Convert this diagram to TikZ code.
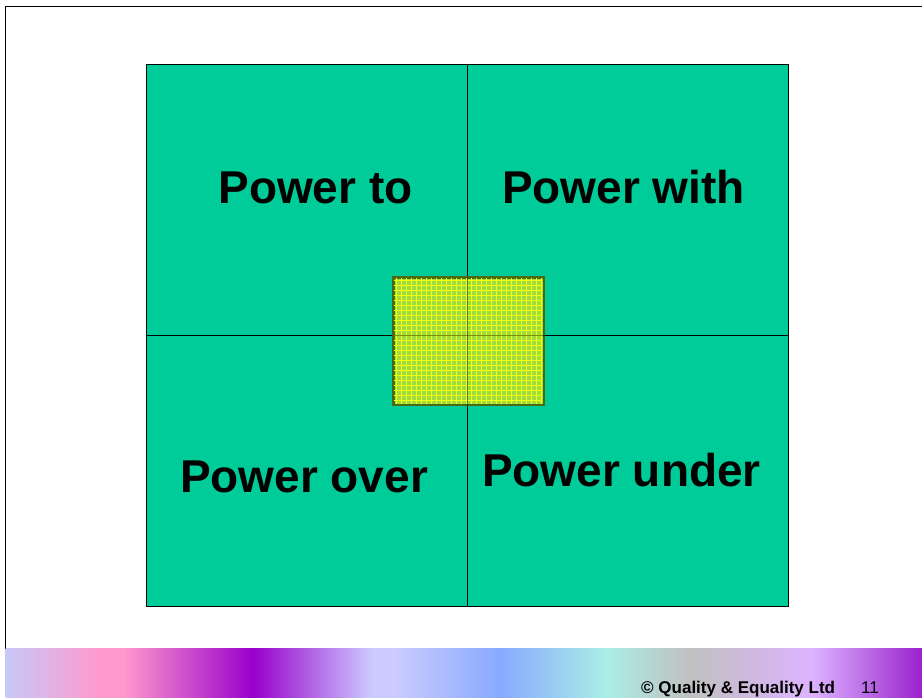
\documentclass[tikz,border=0pt]{standalone}
\usepackage{fontspec}
\setmainfont{Liberation Sans}
\definecolor{quad}{HTML}{00CC99}
\definecolor{hatchbase}{HTML}{9EDC40}
\definecolor{hatchline}{HTML}{F4FF10}
\definecolor{hatchedge}{HTML}{4E6A10}
\definecolor{gA}{HTML}{C8C8F8}
\definecolor{gB}{HTML}{FF99CC}
\definecolor{gC}{HTML}{9900CC}
\definecolor{gD}{HTML}{CCCCFF}
\definecolor{gE}{HTML}{88AAFF}
\definecolor{gF}{HTML}{AAEEE6}
\definecolor{gG}{HTML}{C0C0C0}
\definecolor{gH}{HTML}{DDB3FF}
\definecolor{gI}{HTML}{9922CC}
\pgfdeclarehorizontalshading{bandshade}{100bp}{%
  color(0bp)=(gA); color(25bp)=(gA); color(30.18bp)=(gB); color(31.38bp)=(gB);
  color(38.52bp)=(gC); color(45.01bp)=(gD); color(46.10bp)=(gD);
  color(51.99bp)=(gE); color(57.77bp)=(gF); color(62.35bp)=(gG);
  color(69.00bp)=(gH); color(75bp)=(gI); color(100bp)=(gI)}
\tikzset{
  quadbox/.style={draw=black, line width=0.8pt, fill=quad, minimum width=321pt, minimum height=271pt, inner sep=0pt, outer sep=0pt, anchor=north west},
  powertext/.style={font=\fontsize{46}{50}\selectfont\bfseries, inner sep=0pt, anchor=base},
  foot/.style={font=\fontsize{17}{20}\selectfont\bfseries, inner sep=0pt, anchor=base west},
}
\begin{document}
\begin{tikzpicture}[x=1pt,y=-1pt]
\useasboundingbox (0,0) rectangle (922,697);
\fill[white] (0,0) rectangle (922,697);
% frame
\draw[black, line width=1pt] (5,697) -- (5,6) -- (922,6);
% gradient band
\shade[shading=bandshade] (5.5,648) rectangle (922,697);
% quadrants
\node[quadbox] (q1) at (146,64) {};
\node[quadbox] (q2) at (467,64) {};
\node[quadbox] (q3) at (146,335) {};
\node[quadbox] (q4) at (467,335) {};
% centre hatched square
\node[draw=hatchedge, line width=1.5pt, fill=hatchbase, minimum width=150pt, minimum height=127pt, inner sep=0pt, anchor=north west] (core) at (393,277) {};
\begin{scope}
  \clip (393.8,277.8) rectangle (542.2,403.2);
  \foreach \i in {0,...,30} {
    \draw[hatchline, line width=1pt] (396+\i*5,277) -- (396+\i*5,404);
  }
  \foreach \j in {0,...,26} {
    \draw[hatchline, line width=1pt] (393,280+\j*5) -- (543,280+\j*5);
  }
\end{scope}
\draw[hatchedge, line width=1.5pt] (core.north west) rectangle (core.south east);
\draw[black, opacity=0.45, line width=0.8pt] (q1.north east |- core.north) -- (q1.north east |- core.south);
\draw[black, opacity=0.45, line width=0.8pt] (core.west |- q3.north) -- (core.east |- q3.north);
% labels
\node[powertext] (t1) at (315.5,203) {Power to};
\node[powertext] (t2) at (623.5,203) {Power with};
\node[powertext] (t3) at (304,492) {Power over};
\node[powertext] (t4) at (621.5,486) {Power under};
% footer
\node[foot] (copy) at (641,693) {© Quality \& Equality Ltd};
\node[font=\fontsize{17}{20}\selectfont, inner sep=0pt, anchor=base west] (pg) at (861,693) {11};
\end{tikzpicture}
\end{document}
